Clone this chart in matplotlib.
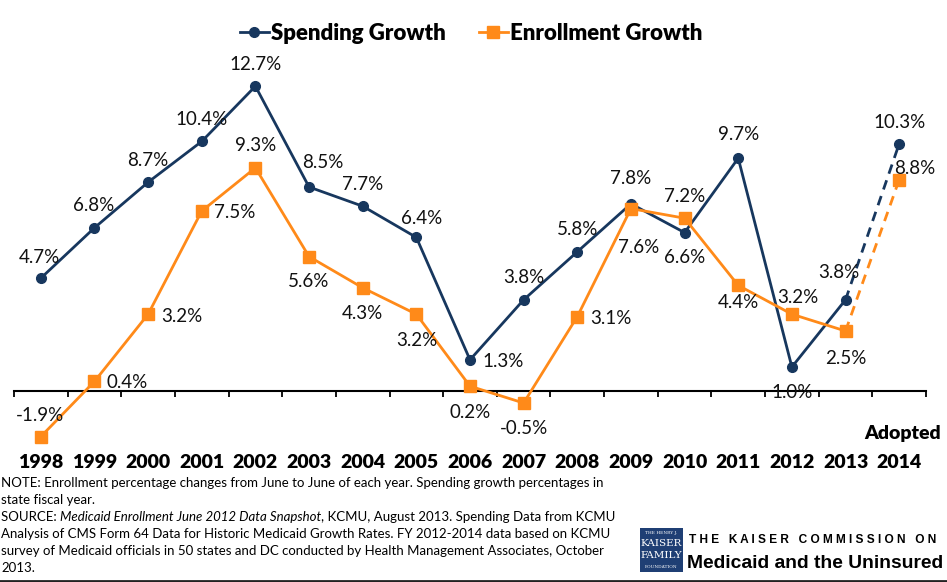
import matplotlib
matplotlib.use("Agg")
from matplotlib import pyplot as plt
from matplotlib.lines import Line2D
from matplotlib.patches import Rectangle

plt.rcParams['font.family'] = ['Lato', 'DejaVu Sans']

years = ['1998', '1999', '2000', '2001', '2002', '2003', '2004', '2005', '2006',
         '2007', '2008', '2009', '2010', '2011', '2012', '2013', '2014']
spending = [4.7, 6.8, 8.7, 10.4, 12.7, 8.5, 7.7, 6.4, 1.3,
            3.8, 5.8, 7.8, 6.6, 9.7, 1.0, 3.8, 10.3]
enrollment = [-1.9, 0.4, 3.2, 7.5, 9.3, 5.6, 4.3, 3.2, 0.2,
              -0.5, 3.1, 7.6, 7.2, 4.4, 3.2, 2.5, 8.8]

# label offsets (pixels) so the value texts sit clear of the lines
spend_off = [(-1, 21), (-1, 22), (0, 22), (0, 22), (0, 22), (14, 24), (0, 22), (5, 19),
             (33, -2), (0, 22), (0, 22), (0, 25), (0, -25), (0, 24), (0, -26), (-7, 27), (0, 21)]
enroll_off = [(-1, 21), (33, -1), (34, -2), (33, -2), (0, 22), (0, -25), (0, -26), (0, -26),
              (0, -26), (0, -25), (34, -2), (8, -39), (0, 22), (0, -17), (6, 17), (0, -27), (16, 11)]

navy = '#17375E'
orange = '#FF8A19'

fig = plt.figure(figsize=(9.47, 5.82), dpi=100)
ax = fig.add_axes([14 / 947, (582 - 443.8) / 582, 912 / 947, 388.8 / 582])

x = list(range(len(years)))
n = len(years) - 1  # last point is the adopted budget, drawn dashed

for vals, col, mk, ms, offs in [(spending, navy, 'o', 7, spend_off),
                                (enrollment, orange, 's', 8.5, enroll_off)]:
    ax.plot(x[:n], vals[:n], color=col, lw=2, marker=mk, ms=ms, zorder=3)
    ax.plot(x[n - 1:], vals[n - 1:], color=col, lw=2, ls=(0, (3.5, 2.5)), zorder=3)
    ax.plot(x[n:], vals[n:], color=col, lw=0, marker=mk, ms=ms, zorder=3)
    for xi, v, o in zip(x, vals, offs):
        ax.annotate(f'{v:.1f}%', (xi, v), xytext=o, textcoords='offset pixels',
                    ha='center', va='center', fontsize=13.5, color='#111111', zorder=4)

ax.set_xlim(-0.5, 16.5)
ax.set_ylim(-2.2, 14.0)
for s in ['top', 'right', 'left']:
    ax.spines[s].set_visible(False)
ax.spines['bottom'].set_position(('data', 0))
ax.spines['bottom'].set_linewidth(1.5)
ax.set_yticks([])
ax.set_xticks(x)
ax.set_xticklabels(years, fontsize=14, fontweight='heavy')
ax.set_xticks([i - 0.5 for i in range(len(years) + 1)], minor=True)
ax.tick_params(axis='x', which='major', length=0, pad=45)
ax.tick_params(axis='x', which='minor', length=4, width=1.3, direction='out')
ax.annotate('Adopted', (16, 0), xytext=(3, -42), textcoords='offset pixels',
            ha='center', va='center', fontsize=14, fontweight='heavy')

handles = [Line2D([], [], color=navy, lw=2, marker='o', ms=7),
           Line2D([], [], color=orange, lw=2, marker='s', ms=8.5)]
fig.legend(handles, ['Spending Growth', 'Enrollment Growth'], loc='center',
           bbox_to_anchor=(471 / 947, 1 - 33 / 582), ncol=2, frameon=False,
           prop={'size': 16, 'weight': 'heavy'}, handlelength=1.3,
           handletextpad=0.1, columnspacing=1.5)

# notes and source
fs_note = 9.5
note_lines = ['NOTE: Enrollment percentage changes from June to June of each year. Spending growth percentages in',
              'state fiscal year.',
              None,
              'Analysis of CMS Form 64 Data for Historic Medicaid Growth Rates. FY 2012-2014 data based on KCMU',
              'survey of Medicaid officials in 50 states and DC conducted by Health Management Associates, October',
              '2013.']
ys = [483, 500, 517, 534, 551, 568]
for line, yp in zip(note_lines, ys):
    if line is not None:
        fig.text(1 / 947, 1 - yp / 582, line, fontsize=fs_note, va='center', ha='left')
src = fig.text(1 / 947, 1 - 517 / 582, 'SOURCE: ', fontsize=fs_note, va='center', ha='left')
src2 = ax.annotate('Medicaid Enrollment June 2012 Data Snapshot', xycoords=src,
                   xy=(1, 0), va='bottom', ha='left', fontsize=fs_note, style='italic',
                   annotation_clip=False)
ax.annotate(', KCMU, August 2013. Spending Data from KCMU', xycoords=src2,
            xy=(1, 0), va='bottom', ha='left', fontsize=fs_note, annotation_clip=False)

# bottom rule
fig.add_artist(Line2D([0, 1], [1 - 580.5 / 582] * 2, color='#222222', lw=2))

# foundation logo block
fig.add_artist(Rectangle((640 / 947, 1 - 572 / 582), 43 / 947, 44 / 582,
                         facecolor='#1F3F74', edgecolor='none'))
for txt, yp, fs in [('THE HENRY J.', 533, 3.2), ('KAISER', 543, 7.5),
                    ('FAMILY', 556, 7.5), ('FOUNDATION', 567, 3.2)]:
    fig.text(661.5 / 947, 1 - yp / 582, txt, color='white', fontsize=fs,
             family='DejaVu Serif', ha='center', va='center')
fig.text(689 / 947, 1 - 540 / 582, 'T H E   K A I S E R   C O M M I S S I O N   O N',
         fontsize=8.6, fontweight='bold', family='Liberation Sans',
         ha='left', va='center')
fig.text(687 / 947, 1 - 563 / 582, 'Medicaid and the Uninsured', fontsize=13.9,
         fontweight='heavy', family='Liberation Sans', ha='left', va='center')

fig.savefig('out.png', dpi=100)
